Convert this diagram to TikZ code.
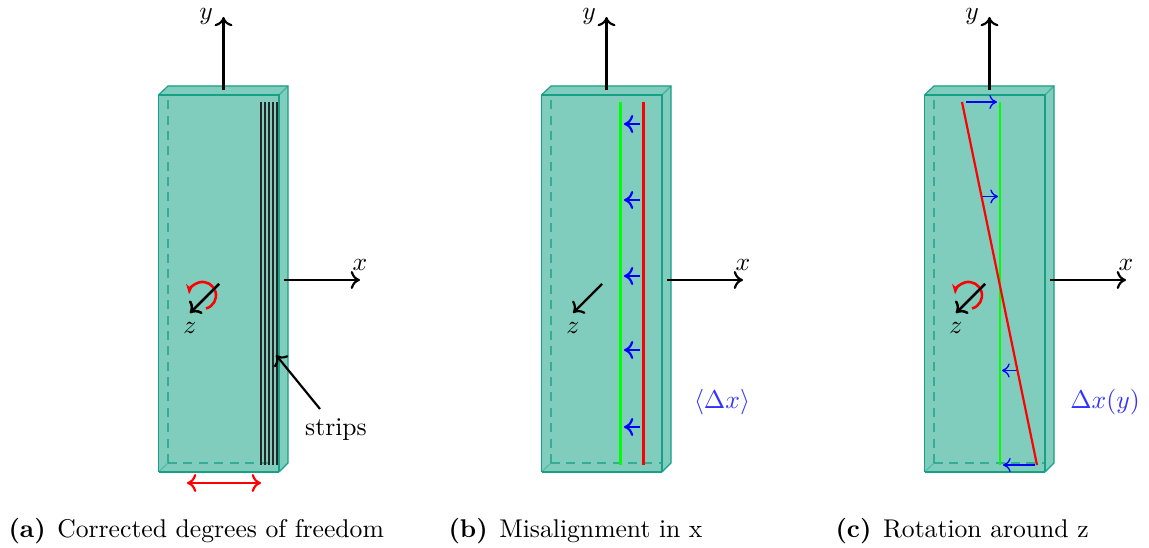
\documentclass[tikz,border=0pt]{standalone}
\usepackage{amsmath}
\usepackage{amssymb}
\usepackage{xcolor}
\usetikzlibrary{arrows.meta}
\definecolor{slabfill}{RGB}{128,204,189}
\definecolor{slabedge}{RGB}{22,160,133}
\tikzset{
  >={Computer Modern Rightarrow[length=3.6pt, width=7pt]},
  slabline/.style={slabedge, line width=0.45pt},
  axisline/.style={->, black, line width=0.85pt},
  caption/.style={anchor=base west, inner sep=0pt},
  bluelabel/.style={blue!80!white, inner sep=0pt},
  offset/.style={->, blue, line width=0.85pt},
  offsetthin/.style={-{Computer Modern Rightarrow[length=3pt, width=5.5pt]}, blue, line width=0.5pt},
  strip/.style={black!85, line width=0.45pt},
  layer/.style={line width=0.85pt}
}
\begin{document}
\begin{tikzpicture}[x=0.39pt, y=0.39pt]
\useasboundingbox (0,0) rectangle (1149,548);
\foreach \dx/\pnl in {0/a,383/b,766/c} {
  \begin{scope}[xshift=\dx*0.39pt]
  \fill[slabfill] (158.5,76) -- (158.5,453) -- (168,462) -- (288,462) -- (288,85) -- (279,76) -- cycle;
  \draw[slabline] (158.5,453) -- (168,462) -- (288,462) -- (288,85) -- (279,76);
  \draw[slabline, opacity=0.6] (279,453) -- (288,462);
  \draw[slabline, dashed, dash pattern=on 3.5pt off 2.5pt, opacity=0.7] (168,85) -- (168,453);
  \draw[slabline, dashed, dash pattern=on 3.5pt off 2.5pt, opacity=0.7] (168,85) -- (279,85);
  \draw[slabline, opacity=0.4] (158.5,76) -- (168,85);
  \draw[slabline] (158.5,76) -- (158.5,453);
  \draw[slabline, line width=0.8pt] (158.5,453) -- (279,453) -- (279,76);
  \draw[slabline, line width=0.45pt] (158.5,76) -- (279,76);
  \coordinate (\pnl-yo) at (223.5,458);
  \coordinate (\pnl-yt) at (223.5,531);
  \coordinate (\pnl-xo) at (284,268);
  \coordinate (\pnl-xt) at (360,268);
  \coordinate (\pnl-zo) at (219,264);
  \coordinate (\pnl-zt) at (190,235);
  \draw[axisline] (\pnl-yo) -- (\pnl-yt);
  \draw[axisline] (\pnl-xo) -- (\pnl-xt);
  \draw[axisline] (\pnl-zo) -- (\pnl-zt);
  \node (\pnl-ylabel) at (206,532) {$y$};
  \node (\pnl-xlabel) at (360,283) {$x$};
  \node (\pnl-zlabel) at (190,220) {$z$};
  \end{scope}
}
% strips and corrections of the first slab
\foreach \sx in {261,265,269,273,277} {
  \draw[strip] (\sx,446) -- (\sx,83);
}
\draw[-{Stealth[length=4pt]}, red, line width=1pt] (206,239.5) arc (-75:175:13.5);
\draw[axisline] (a-zo) -- (a-zt);
\coordinate (a-dl) at (187,65);
\coordinate (a-dr) at (261,65);
\draw[<->, red, line width=0.85pt] (a-dl) -- (a-dr);
\node (strips) at (336,118) {strips};
\coordinate (strips-tip) at (276,193);
\coordinate (strips-from) at (320,139);
\draw[axisline] (strips-from) -- (strips-tip);
% misaligned layer
\coordinate (b-gt) at (620.5,446);
\coordinate (b-gb) at (620.5,83);
\coordinate (b-rt) at (643.5,446);
\coordinate (b-rb) at (643.5,83);
\draw[green, layer] (b-gt) -- (b-gb);
\draw[red, layer] (b-rt) -- (b-rb);
\foreach \ay in {424,348,272,198,121} {
  \draw[offset] (640,\ay) -- (624,\ay);
}
\node[bluelabel] (b-delta) at (722,146) {$\langle\Delta x\rangle$};
% rotated layer
\coordinate (c-gt) at (1000,446);
\coordinate (c-gb) at (1000,83);
\coordinate (c-rt) at (962,446);
\coordinate (c-rb) at (1037,83);
\draw[green, layer] (c-gt) -- (c-gb);
\draw[offsetthin] (966,446) -- (997,446);
\draw[offsetthin] (982,351.5) -- (998,351.5);
\draw[offsetthin] (1017,177.5) -- (1002,177.5);
\draw[offsetthin] (1035,83) -- (1003,83);
\draw[red, layer] (c-rt) -- (c-rb);
\draw[-{Stealth[length=4pt]}, red, line width=1pt] (972,239.5) arc (-75:175:13.5);
\draw[axisline] (c-zo) -- (c-zt);
\node[bluelabel] (c-delta) at (1105,146) {$\Delta x(y)$};
% captions
\node[caption] (cap-a) at (8,10) {\textbf{(a)}\hspace{0.45em}Corrected degrees of freedom};
\node[caption] (cap-b) at (448,10) {\textbf{(b)}\hspace{0.45em}Misalignment in x};
\node[caption] (cap-c) at (835,10) {\textbf{(c)}\hspace{0.45em}Rotation around z};
\end{tikzpicture}
\end{document}
